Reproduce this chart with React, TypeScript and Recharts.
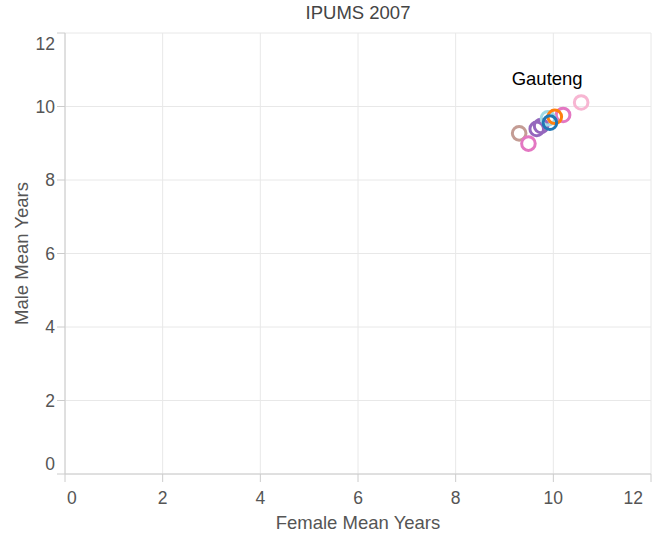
import React from "react";
import { ScatterChart, Scatter, XAxis, YAxis, CartesianGrid } from "recharts";

if (typeof document !== "undefined") document.body.style.margin = "0";

const provinces = [
  "Gauteng",
  "Western Cape",
  "Free State",
  "Northern Cape",
  "North West",
  "Mpumalanga",
  "KwaZulu-Natal",
  "Limpopo",
  "Eastern Cape",
];
const femaleYears = [10.57, 10.2, 9.3, 9.49, 9.66, 9.75, 9.89, 10.03, 9.93];
const maleYears = [10.11, 9.77, 9.27, 8.99, 9.39, 9.47, 9.68, 9.72, 9.56];
const colors = [
  "#f7b6d2",
  "#e377c2",
  "#c49c94",
  "#e377c2",
  "#9467bd",
  "#9467bd",
  "#9edae5",
  "#ff7f0e",
  "#1f77b4",
];
const ticks = [0, 2, 4, 6, 8, 10, 12];
const labelled = "Gauteng";

const points = provinces.map((name, i) => ({
  name,
  female: femaleYears[i],
  male: maleYears[i],
  color: colors[i],
}));

const FONT = "'Liberation Sans', Arial, Helvetica, sans-serif";
const TICK_COLOR = "#555";
const LINE = "#cccccc";

function XTick(props: any) {
  const { x, y, payload } = props;
  const v = payload.value;
  let anchor: "start" | "middle" | "end" = "middle";
  let tx = x;
  if (v === ticks[0]) {
    anchor = "start";
    tx = x + 2;
  } else if (v === ticks[ticks.length - 1]) {
    anchor = "end";
    tx = x - 1;
  }
  return (
    <text x={tx} y={y + 19.5} textAnchor={anchor} fill={TICK_COLOR} fontSize={17.5} fontFamily={FONT}>
      {v}
    </text>
  );
}

function YTick(props: any) {
  const { x, y, payload } = props;
  const v = payload.value;
  let dy = 6.3;
  if (v === ticks[ticks.length - 1]) dy = 17;
  else if (v === ticks[0]) dy = -4;
  return (
    <text x={x} y={y + dy} textAnchor="end" fill={TICK_COLOR} fontSize={17.5} fontFamily={FONT}>
      {v}
    </text>
  );
}

function Ring(props: any) {
  const { cx, cy, payload } = props;
  return (
    <g>
      <circle cx={cx} cy={cy} r={6.8} fill="none" stroke={payload.color} strokeWidth={3} />
      {payload.name === labelled && (
        <text x={cx - 34} y={cy - 17.5} textAnchor="middle" fill="#000" fontSize={18.5} fontFamily={FONT}>
          {payload.name}
        </text>
      )}
    </g>
  );
}

export default function App() {
  return (
    <div style={{ position: "relative", width: 652, height: 539, background: "#fff" }}>
      <div
        style={{
          position: "absolute",
          top: 2,
          left: 65,
          width: 586,
          textAlign: "center",
          fontFamily: FONT,
          fontSize: 18.5,
          color: "#444",
          lineHeight: "21px",
        }}
      >
        IPUMS 2007
      </div>
      <ScatterChart width={652} height={539} margin={{ top: 33, right: 1, left: 0, bottom: 0 }}>
        <CartesianGrid stroke="#e8e8e8" />
        <XAxis
          type="number"
          dataKey="female"
          domain={[0, 12]}
          ticks={ticks}
          height={65}
          tickSize={8}
          stroke={LINE}
          tick={<XTick />}
          label={{
            content: (p: any) => {
              const vb = p.viewBox;
              return (
                <text
                  x={vb.x + vb.width / 2}
                  y={vb.y + 55}
                  textAnchor="middle"
                  fill={TICK_COLOR}
                  fontSize={18.5}
                  fontFamily={FONT}
                >
                  Female Mean Years
                </text>
              );
            },
          }}
        />
        <YAxis
          type="number"
          dataKey="male"
          domain={[0, 12]}
          ticks={ticks}
          width={65}
          tickSize={8}
          stroke={LINE}
          tick={<YTick />}
          label={{
            content: (p: any) => {
              const vb = p.viewBox;
              const cy = vb.y + vb.height / 2;
              return (
                <text
                  x={28}
                  y={cy}
                  transform={`rotate(-90, 28, ${cy})`}
                  textAnchor="middle"
                  fill={TICK_COLOR}
                  fontSize={18.5}
                  fontFamily={FONT}
                >
                  Male Mean Years
                </text>
              );
            },
          }}
        />
        <Scatter data={points} shape={<Ring />} isAnimationActive={false} />
      </ScatterChart>
    </div>
  );
}
